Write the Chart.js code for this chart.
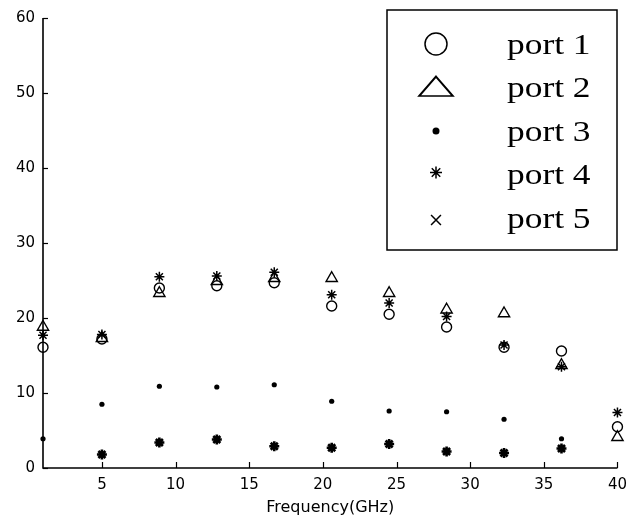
<!DOCTYPE html>
<html lang="en">

<head>
    <meta charset="UTF-8">
    <title>Port isolation vs frequency</title>
    <script src="https://cdn.jsdelivr.net/npm/chart.js"></script>
    <style>
        body {
            margin: 0;
            padding: 0;
            background: #fff;
        }
    </style>
</head>

<body>
    <canvas id="chart" width="635" height="520"></canvas>

    <script>
        // values
        var freq = [1, 5, 8.9, 12.8, 16.7, 20.6, 24.5, 28.4, 32.3, 36.2, 40];
        var port1 = [16.1, 17.2, 24.0, 24.3, 24.7, 21.6, 20.5, 18.8, 16.1, 15.6, 5.5];
        var port2 = [18.8, 17.3, 23.3, 24.9, 25.3, 25.3, 23.3, 21.1, 20.6, 13.7, 4.1];
        var port3 = [3.9, 8.5, 10.9, 10.8, 11.1, 8.9, 7.6, 7.5, 6.5, 3.9, null];
        var port4 = [17.7, 17.8, 25.5, 25.6, 26.1, 23.1, 22.0, 20.2, 16.4, 13.5, 7.4];
        var port5 = [null, 1.8, 3.4, 3.8, 2.9, 2.7, 3.2, 2.2, 2.0, 2.6, null];

        var xTicks = [5, 10, 15, 20, 25, 30, 35, 40];
        var yTicks = [0, 10, 20, 30, 40, 50, 60];

        function toPoints(values) {
            var pts = [];
            for (var i = 0; i < freq.length; i++) {
                if (values[i] !== null) pts.push({ x: freq[i], y: values[i] });
            }
            return pts;
        }

        // axes lines with inward ticks, and the boxed legend in the top right
        var framePlugin = {
            id: 'frame',
            beforeDatasetsDraw: function (chart) {
                var ctx = chart.ctx, a = chart.chartArea;
                var xs = chart.scales.x, ys = chart.scales.y;
                ctx.save();
                ctx.strokeStyle = '#000';
                ctx.lineWidth = 1.6;
                ctx.beginPath();
                ctx.moveTo(a.left, a.top);
                ctx.lineTo(a.left, a.bottom);
                ctx.lineTo(a.right, a.bottom);
                ctx.stroke();
                ctx.lineWidth = 1.2;
                ys.ticks.forEach(function (t) {
                    var py = Math.round(ys.getPixelForValue(t.value)) + 0.5;
                    ctx.beginPath();
                    ctx.moveTo(a.left, py);
                    ctx.lineTo(a.left + 5, py);
                    ctx.stroke();
                });
                xs.ticks.forEach(function (t) {
                    var px = Math.round(xs.getPixelForValue(t.value)) + 0.5;
                    ctx.beginPath();
                    ctx.moveTo(px, a.bottom);
                    ctx.lineTo(px, a.bottom - 6);
                    ctx.stroke();
                });
                ctx.restore();
            },
            afterDraw: function (chart) {
                var ctx = chart.ctx;
                var box = { left: 387, top: 10, right: 617, bottom: 250 };
                ctx.save();
                ctx.fillStyle = '#fff';
                ctx.fillRect(box.left, box.top, box.right - box.left, box.bottom - box.top);
                ctx.strokeStyle = '#000';
                ctx.lineWidth = 1.5;
                ctx.strokeRect(box.left, box.top, box.right - box.left, box.bottom - box.top);

                chart.data.datasets.forEach(function (ds, i) {
                    var cy = 44 + i * 43.5;
                    var st = ds.legendSymbol;
                    ctx.save();
                    ctx.translate(436, cy + (st.dy || 0));
                    ctx.scale(st.sx || 1, 1);
                    ctx.fillStyle = st.fill ? '#000' : 'rgba(0,0,0,0)';
                    ctx.strokeStyle = '#000';
                    Chart.helpers.drawPoint(ctx, {
                        pointStyle: st.style,
                        radius: st.radius,
                        borderWidth: st.width / (st.sx || 1),
                        rotation: 0
                    }, 0, 0);
                    ctx.restore();

                    ctx.save();
                    ctx.translate(507, cy + 2);
                    ctx.scale(1.18, 1);
                    ctx.fillStyle = '#000';
                    ctx.font = '30px "Liberation Serif"';
                    ctx.textBaseline = 'middle';
                    ctx.fillText(ds.label, 0, 0);
                    ctx.restore();
                });
                ctx.restore();
            }
        };

        var ctx = document.getElementById('chart').getContext('2d');
        var chart = new Chart(ctx, {
            type: 'scatter',
            data: {
                datasets: [{
                    label: 'port 1',
                    data: toPoints(port1),
                    pointStyle: 'circle',
                    pointRadius: 5,
                    borderWidth: 1.4,
                    borderColor: '#000',
                    backgroundColor: 'rgba(0,0,0,0)',
                    legendSymbol: { style: 'circle', radius: 11, width: 1.4 }
                }, {
                    label: 'port 2',
                    data: toPoints(port2),
                    pointStyle: 'triangle',
                    pointRadius: 6.5,
                    borderWidth: 1.4,
                    borderColor: '#000',
                    backgroundColor: 'rgba(0,0,0,0)',
                    legendSymbol: { style: 'triangle', radius: 13, width: 1.4, sx: 1.5, dy: 2 }
                }, {
                    label: 'port 3',
                    data: toPoints(port3),
                    pointStyle: 'circle',
                    pointRadius: 2.6,
                    borderWidth: 0,
                    borderColor: '#000',
                    backgroundColor: '#000',
                    legendSymbol: { style: 'circle', radius: 3.5, width: 0, fill: true }
                }, {
                    label: 'port 4',
                    data: toPoints(port4),
                    pointStyle: 'star',
                    pointRadius: 5,
                    borderWidth: 1.5,
                    borderColor: '#000',
                    backgroundColor: '#000',
                    legendSymbol: { style: 'star', radius: 6, width: 1.6, dy: -2 }
                }, {
                    label: 'port 5',
                    data: toPoints(port5),
                    pointStyle: 'star',
                    pointRadius: 5,
                    borderWidth: 2.6,
                    borderColor: '#000',
                    backgroundColor: '#000',
                    legendSymbol: { style: 'crossRot', radius: 7, width: 1.8, dy: 2 }
                }]
            },
            options: {
                responsive: false,
                animation: false,
                devicePixelRatio: 1,
                layout: {
                    padding: { top: 18, right: 17, left: 0, bottom: 0 }
                },
                elements: {
                    point: { hoverRadius: 5 }
                },
                datasets: {
                    scatter: { clip: false, showLine: false }
                },
                plugins: {
                    legend: { display: false },
                    tooltip: { enabled: false }
                },
                scales: {
                    x: {
                        type: 'linear',
                        min: 1,
                        max: 40,
                        grid: { display: false, drawTicks: false },
                        border: { display: false },
                        afterBuildTicks: function (s) {
                            s.ticks = xTicks.map(function (v) { return { value: v }; });
                        },
                        afterFit: function (s) { s.height = 52; },
                        ticks: {
                            color: '#000',
                            padding: 8,
                            maxRotation: 0,
                            font: { family: 'DejaVu Sans', size: 15 }
                        },
                        title: {
                            display: true,
                            text: 'Frequency(GHz)',
                            color: '#000',
                            padding: { top: 0, bottom: 3 },
                            font: { family: 'DejaVu Sans', size: 16 }
                        }
                    },
                    y: {
                        type: 'linear',
                        min: 0,
                        max: 60,
                        grid: { display: false, drawTicks: false },
                        border: { display: false },
                        afterBuildTicks: function (s) {
                            s.ticks = yTicks.map(function (v) { return { value: v }; });
                        },
                        afterFit: function (s) { s.width = 43; },
                        ticks: {
                            color: '#000',
                            padding: 8,
                            font: { family: 'DejaVu Sans', size: 15 }
                        }
                    }
                }
            },
            plugins: [framePlugin]
        });
    </script>
</body>

</html>
